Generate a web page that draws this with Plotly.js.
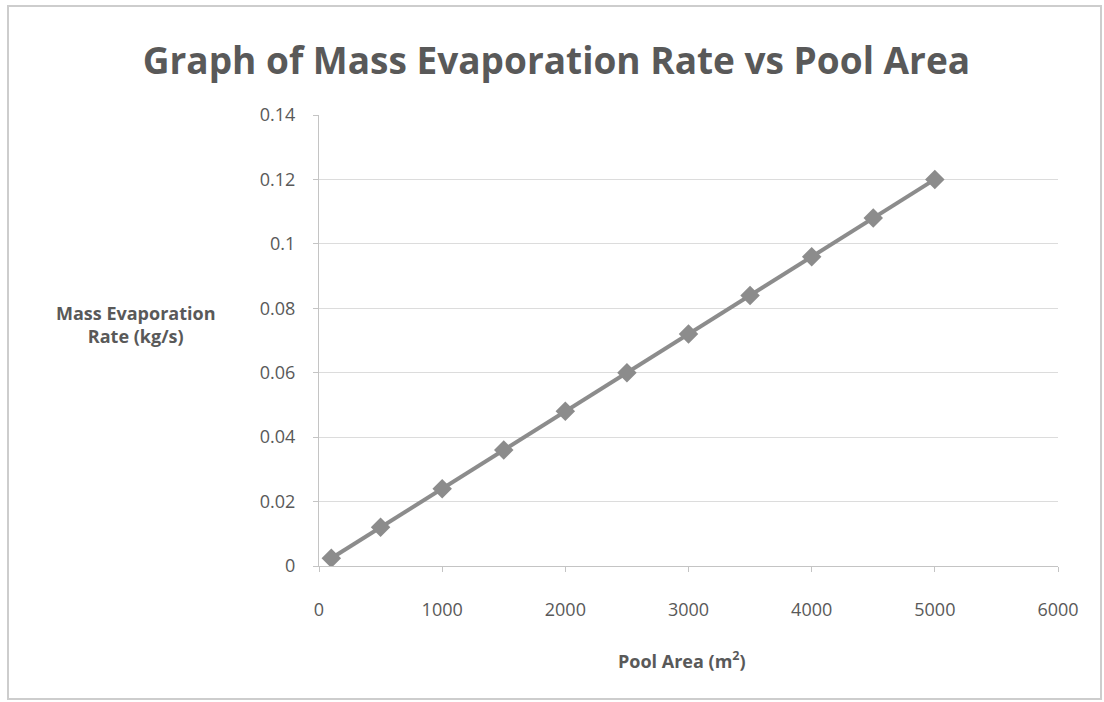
<!DOCTYPE html>
<html>
<head>
<meta charset="utf-8">
<script src="https://cdn.plot.ly/plotly-3.0.1.min.js"></script>
<style>
  html, body { margin: 0; padding: 0; background: #fff; }
  #wrap { position: relative; width: 1104px; height: 702px; }
  #chart { position: absolute; left: 0; top: 0; width: 1104px; height: 702px; }
  #frame { position: absolute; left: 7px; top: 5px; width: 1095px; height: 695px;
           border: 2px solid #cdcdcd; box-sizing: border-box; pointer-events: none; }
</style>
</head>
<body>
<div id="wrap">
  <div id="chart"></div>
  <div id="frame"></div>
</div>
<script>
const poolArea = [100, 500, 1000, 1500, 2000, 2500, 3000, 3500, 4000, 4500, 5000];
const evapRate = [0.0024, 0.012, 0.024, 0.036, 0.048, 0.06, 0.072, 0.084, 0.096, 0.108, 0.12];
const yTickVals = [0, 0.02, 0.04, 0.06, 0.08, 0.1, 0.12, 0.14];
const yTickText = ['0', '0.02', '0.04', '0.06', '0.08', '0.1', '0.12', '0.14'];
const xTickVals = [0, 1000, 2000, 3000, 4000, 5000, 6000];

const txt = '#595959';
const fontFam = 'Open Sans, Lato, sans-serif';

const trace = {
  x: poolArea, y: evapRate, type: 'scatter', mode: 'lines+markers',
  line: { color: '#8c8c8c', width: 4 },
  marker: { symbol: 'diamond', size: 15, color: '#8c8c8c' },
  hoverinfo: 'x+y'
};

const layout = {
  width: 1104, height: 702,
  margin: { l: 319, r: 46, t: 115, b: 136 },
  paper_bgcolor: '#ffffff', plot_bgcolor: '#ffffff',
  showlegend: false,
  title: {
    text: '<b>Graph of Mass Evaporation Rate vs Pool Area</b>',
    font: { family: fontFam, size: 37, color: txt },
    x: 0.504, xanchor: 'center', y: 0.913, yanchor: 'middle'
  },
  xaxis: {
    range: [0, 6000], tickvals: xTickVals, ticktext: xTickVals.map(String),
    showgrid: false, zeroline: false,
    showline: true, linecolor: '#c4c4c4', linewidth: 1,
    ticks: 'outside', ticklen: 5, tickcolor: '#c4c4c4',
    ticklabelstandoff: 22,
    tickfont: { family: fontFam, size: 18, color: txt }
  },
  yaxis: {
    range: [0, 0.14], tickvals: yTickVals, ticktext: yTickText,
    showgrid: true, gridcolor: '#dcdcdc', gridwidth: 1, zeroline: false,
    showline: true, linecolor: '#c4c4c4', linewidth: 1,
    ticks: 'outside', ticklen: 5, tickcolor: '#c4c4c4',
    ticklabelstandoff: 14,
    tickfont: { family: fontFam, size: 18, color: txt }
  },
  annotations: [
    {
      text: '<b>Mass Evaporation<br>Rate (kg/s)</b>',
      xref: 'paper', yref: 'paper', x: -0.248, y: 0.535, xanchor: 'center', yanchor: 'middle',
      showarrow: false, align: 'center',
      font: { family: fontFam, size: 18, color: txt }
    },
    {
      text: '<b>Pool Area (m<sup>2</sup>)</b>',
      xref: 'paper', yref: 'paper', x: 0.4912, y: -0.208, xanchor: 'center', yanchor: 'middle',
      showarrow: false,
      font: { family: fontFam, size: 18, color: txt }
    }
  ]
};

Plotly.newPlot('chart', [trace], layout, { displayModeBar: false, staticPlot: true });
</script>
</body>
</html>
